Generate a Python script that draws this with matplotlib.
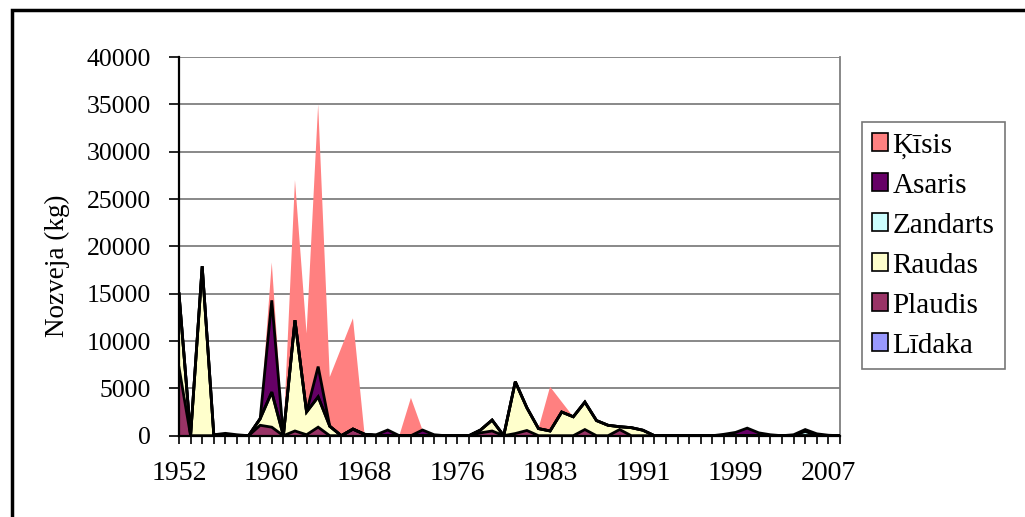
import numpy as np
import matplotlib.pyplot as plt
from matplotlib.patches import Rectangle

plt.rcParams['font.family'] = ['Liberation Serif', 'DejaVu Serif']

# category labels shown on the x axis (every 8th category, 58 categories total)
tick_labels = ['1952', '1960', '1968', '1976', '1983', '1991', '1999', '2007']
n_cat = 58

series_names = ['Līdaka', 'Plaudis', 'Raudas', 'Zandarts', 'Asaris', 'Ķīsis']
series_colors = ['#9999FF', '#993366', '#FFFFCC', '#CCFFFF', '#660066', '#FF8080']

lidaka = [0] * 58
plaudis = [7200, 0, 0, 0, 0, 0, 0, 1100, 900, 0,
           500, 100, 900, 0, 0, 700, 150, 0, 0, 0,
           0, 0, 0, 0, 0, 0, 300, 500, 0, 230,
           550, 0, 0, 0, 0, 650, 0, 0, 650, 0,
           0, 0, 0, 0, 0, 0, 0, 0, 0, 0,
           0, 0, 0, 0, 0, 0, 0, 0]
raudas = [7800, 0, 17900, 100, 0, 0, 0, 700, 3700, 0,
          11700, 2400, 3200, 1000, 0, 0, 0, 0, 0, 0,
          0, 0, 0, 0, 0, 0, 300, 1150, 0, 5470,
          2400, 750, 500, 2500, 2000, 2900, 1600, 1100, 300, 850,
          580, 0, 0, 0, 0, 0, 0, 0, 0, 0,
          0, 0, 0, 0, 0, 0, 0, 0]
zandarts = [0] * 54 + [450, 0, 0, 0]
asaris = [0, 0, 0, 0, 250, 100, 0, 0, 9700, 0,
          0, 0, 3200, 0, 0, 0, 0, 100, 600, 0,
          0, 600, 100, 0, 0, 0, 0, 0, 0, 0,
          0, 0, 0, 0, 0, 0, 0, 0, 0, 0,
          0, 0, 0, 0, 0, 0, 0, 150, 350, 800,
          300, 100, 0, 100, 200, 200, 50, 0]
kisis = [0, 0, 0, 0, 0, 0, 0, 0, 4000, 0,
         14800, 8300, 27700, 5200, 9300, 11700, 0, 0, 0, 0,
         4000, 0, 0, 0, 0, 0, 0, 0, 0, 0,
         0, 0, 4670, 1080, 0, 0, 0, 0, 0, 0,
         0, 0, 0, 0, 0, 0, 0, 0, 0, 0,
         0, 0, 0, 0, 0, 0, 0, 0]

data = [lidaka, plaudis, raudas, zandarts, asaris, kisis]

fig = plt.figure(figsize=(10.25, 5.17), dpi=100)
ax = fig.add_axes([179 / 1025, (517 - 435.7) / 517, 661 / 1025, 378.7 / 517])

x = np.arange(n_cat)
base = np.zeros(n_cat)
handles = []
for name, vals, col in zip(series_names, data, series_colors):
    top = base + np.array(vals, dtype=float)
    ax.fill_between(x, base, top, facecolor=col, edgecolor='none', zorder=2)
    if name != 'Ķīsis':
        ax.plot(x, top, color='black', lw=2.0, zorder=3, solid_joinstyle='miter')
    handles.append(Rectangle((0, 0), 1, 1, facecolor=col, edgecolor='black', lw=1.2))
    base = top

ax.set_xlim(0, n_cat - 1)
ax.set_ylim(0, 40000)
ax.set_yticks(np.arange(0, 40001, 5000))
ax.set_yticklabels([str(v) for v in range(0, 40001, 5000)], fontsize=18.5)
ax.grid(axis='y', color='#7f7f7f', lw=1.3, zorder=1)
ax.set_axisbelow(True)

lbls = [''] * n_cat
for i, t in enumerate(tick_labels):
    lbls[i * 8] = t
ax.set_xticks(x)
ax.set_xticklabels(lbls, fontsize=20)
ax.tick_params(axis='x', length=6, width=1.2, pad=12, color='black')
ax.tick_params(axis='y', length=7, width=1.2, pad=13)

ax.spines['left'].set_color('black')
ax.spines['left'].set_linewidth(1.6)
ax.spines['bottom'].set_color('black')
ax.spines['bottom'].set_linewidth(1.6)
ax.spines['bottom'].set_zorder(4)
ax.spines['right'].set_color('#7f7f7f')
ax.spines['right'].set_linewidth(1.3)
ax.spines['top'].set_visible(False)

ax.set_ylabel('Nozveja (kg)', fontsize=19.5)
ax.yaxis.set_label_coords(-0.165, 0.45)

leg = fig.legend(handles[::-1], series_names[::-1], loc='upper left',
                 bbox_to_anchor=(862 / 1025, (517 - 122) / 517),
                 fontsize=21, frameon=True, fancybox=False,
                 handlelength=0.55, handleheight=0.55, handletextpad=0.15,
                 labelspacing=0.48, borderpad=0.35, borderaxespad=0)
leg.get_frame().set_edgecolor('#555555')
leg.get_frame().set_linewidth(1.2)

# outer chart border
fig.patches.append(Rectangle((12 / 1025, -0.05), 1.1, (517 - 10) / 517 + 0.05,
                             transform=fig.transFigure, fill=False,
                             edgecolor='black', lw=2.5))

fig.savefig('out.png', dpi=100)
